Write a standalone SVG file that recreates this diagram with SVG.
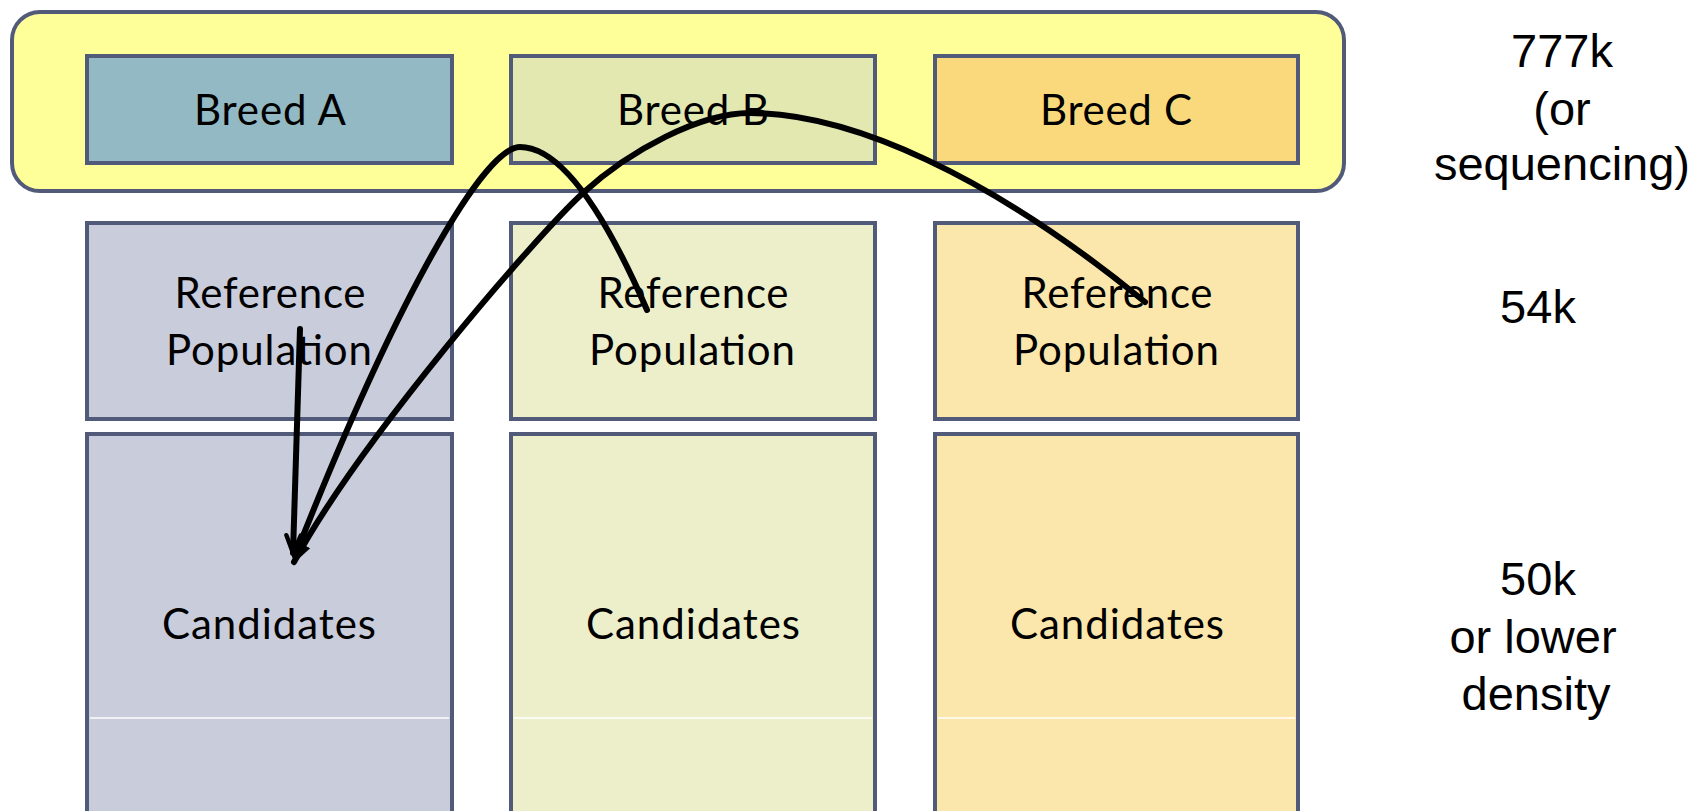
<svg xmlns="http://www.w3.org/2000/svg" width="1706" height="811" viewBox="0 0 1706 811">
<style>
.box{stroke:#525a7a;stroke-width:4}
.lbl{font-family:Lato,"Open Sans",sans-serif;font-size:42px;fill:#000;text-anchor:middle}
.side{font-family:"Liberation Sans",Arial,sans-serif;font-size:47px;fill:#000;text-anchor:middle}
.conn{fill:none;stroke:#000;stroke-width:6;stroke-linecap:round}
.sep{stroke:#ffffff;stroke-width:1.5}
</style>
<defs>
<marker id="open" viewBox="0 0 20 20" refX="19" refY="10" markerWidth="22" markerHeight="22" orient="auto" markerUnits="userSpaceOnUse">
<path d="M3,3.5 L19,10 L3,16.5" fill="none" stroke="#000" stroke-width="4" stroke-linecap="round" stroke-linejoin="miter"/>
</marker>
<marker id="tri" viewBox="0 0 20 20" refX="18" refY="10" markerWidth="22" markerHeight="22" orient="auto" markerUnits="userSpaceOnUse">
<path d="M0,3 L20,10 L0,17 Z" fill="#000"/>
</marker>
</defs>
<rect width="1706" height="811" fill="#ffffff"/>
<g id="container">
<rect x="12" y="12" width="1332" height="179" rx="28" ry="28" fill="#ffff99" class="box"/>
</g>
<g id="breedA"><rect x="87" y="56" width="365" height="107" fill="#93b9c4" class="box"/><text x="270" y="125" class="lbl" textLength="152">Breed A</text></g>
<g id="breedB"><rect x="511" y="56" width="364" height="107" fill="#e3e8b0" class="box"/><text x="693" y="125" class="lbl" textLength="152">Breed B</text></g>
<g id="breedC"><rect x="935" y="56" width="363" height="107" fill="#fad97c" class="box"/><text x="1116" y="125" class="lbl" textLength="152">Breed C</text></g>
<g id="refA"><rect x="87" y="223" width="365" height="196" fill="#c8ccdb" class="box"/><text x="270" y="308" class="lbl" textLength="191">Reference</text><text x="269" y="365" class="lbl" textLength="206">Population</text></g>
<g id="refB"><rect x="511" y="223" width="364" height="196" fill="#ecefca" class="box"/><text x="693" y="308" class="lbl" textLength="191">Reference</text><text x="692" y="365" class="lbl" textLength="206">Population</text></g>
<g id="refC"><rect x="935" y="223" width="363" height="196" fill="#fbe7ab" class="box"/><text x="1117" y="308" class="lbl" textLength="191">Reference</text><text x="1116" y="365" class="lbl" textLength="206">Population</text></g>
<g id="candA"><rect x="87" y="434" width="365" height="400" fill="#c8ccdb" class="box"/><line x1="90" y1="718" x2="449" y2="718" class="sep"/><text x="269" y="639" class="lbl" textLength="214">Candidates</text></g>
<g id="candB"><rect x="511" y="434" width="364" height="400" fill="#ecefca" class="box"/><line x1="514" y1="718" x2="872" y2="718" class="sep"/><text x="693" y="639" class="lbl" textLength="214">Candidates</text></g>
<g id="candC"><rect x="935" y="434" width="363" height="400" fill="#fbe7ab" class="box"/><line x1="938" y1="718" x2="1295" y2="718" class="sep"/><text x="1117" y="639" class="lbl" textLength="214">Candidates</text></g>
<g id="labels">
<text x="1562" y="67" class="side">777k</text>
<text x="1562" y="125" class="side">(or</text>
<text x="1562" y="180" class="side">sequencing)</text>
<text x="1538" y="323" class="side">54k</text>
<text x="1538" y="595" class="side">50k</text>
<text x="1533" y="653" class="side">or lower</text>
<text x="1536" y="710" class="side">density</text>
</g>
<g id="connectors">
<path class="conn" d="M300,329 L293,553" marker-end="url(#open)"/>
<path class="conn" d="M647,310 C610,225 565,147 520,147 C485,147 400,290 295,556"/>
<path class="conn" d="M1145,302 C990,175 850,113 750,113 C700,113 630,150 583,193 C536,236 360,440 294,562" marker-end="url(#tri)"/>
</g>
</svg>
